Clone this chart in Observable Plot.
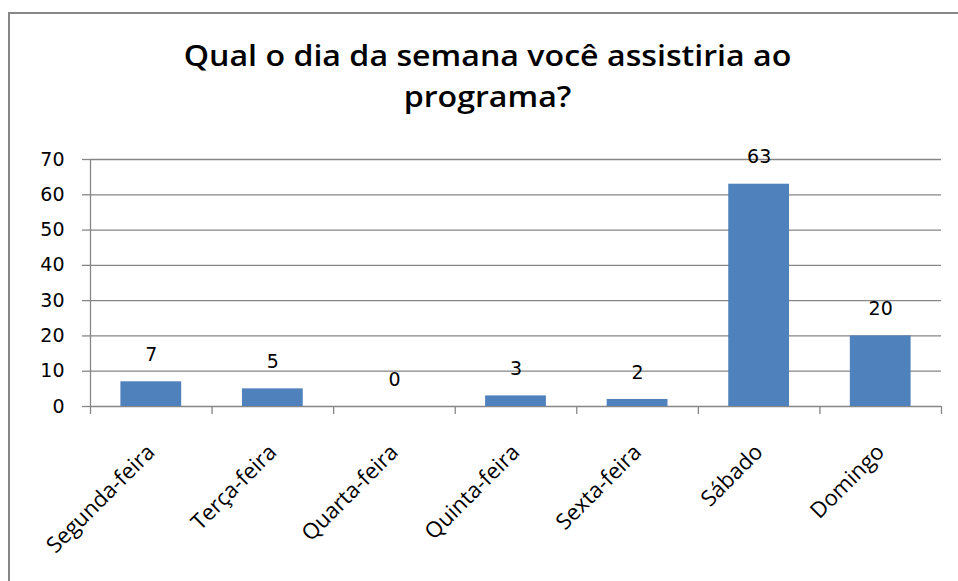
<!DOCTYPE html>
<html>
<head>
<meta charset="utf-8">
<script src="https://cdn.jsdelivr.net/npm/d3@7"></script>
<script src="https://cdn.jsdelivr.net/npm/@observablehq/plot@0.6"></script>
<style>
  html, body { margin: 0; padding: 0; background: #fff; }
  #wrap { position: relative; width: 958px; height: 581px; overflow: hidden; background: #fff; }
  #frame { position: absolute; left: 8px; top: 12px; width: 960px; height: 580px;
           border-top: 2px solid #878787; border-left: 2px solid #878787; box-sizing: border-box; }
  #title { position: absolute; left: 0; top: 34px; width: 975px; text-align: center;
           font-family: "Open Sans", Lato, sans-serif; font-weight: 600; font-size: 29.5px;
           line-height: 41px; color: #000; transform: scaleX(1.09); transform-origin: 487px 0; }
  #chart { position: absolute; left: 0; top: 0; }
</style>
</head>
<body>
<div id="wrap">
  <div id="frame"></div>
  <div id="chart"></div>
  <div id="title">Qual o dia da semana você assistiria ao<br>programa?</div>
</div>
<script>
const categories = ["Segunda-feira", "Terça-feira", "Quarta-feira", "Quinta-feira", "Sexta-feira", "Sábado", "Domingo"];
const values = [7, 5, 0, 3, 2, 63, 20];
const yTicks = [0, 10, 20, 30, 40, 50, 60, 70];

const data = categories.map((c, i) => ({category: c, index: i, value: values[i]}));
const boundaries = d3.range(0, categories.length + 1);

const numFont = "DejaVu Sans, Verdana, sans-serif";
const labFont = "'Open Sans', Lato, sans-serif";
const gray = "#868686";

const chart = Plot.plot({
  width: 958,
  height: 581,
  marginTop: 159,
  marginBottom: 175,
  marginLeft: 90,
  marginRight: 17,
  style: {background: "transparent", overflow: "visible"},
  x: {type: "linear", domain: [0, categories.length]},
  y: {domain: [0, 70]},
  marks: [
    Plot.gridY(yTicks, {stroke: gray, strokeOpacity: 1, strokeWidth: 1.3}),
    Plot.axisY(yTicks, {tickSize: 8, tickPadding: 18, stroke: gray, strokeWidth: 1.3, fontSize: 19, fontFamily: numFont, fill: "#000", label: null}),
    Plot.axisX(boundaries, {tickSize: 8, stroke: gray, strokeWidth: 1.3, tickFormat: () => "", label: null}),
    Plot.ruleX([0], {y1: 0, y2: 70, stroke: gray, strokeWidth: 1.3}),
    Plot.rectY(data, {x1: d => d.index + 0.25, x2: d => d.index + 0.75, y: "value", fill: "#4F81BD"}),
    Plot.text(data, {x: d => d.index + 0.5, y: "value", text: d => String(d.value), dy: -27, fontSize: 19, fontFamily: numFont, fill: "#000"}),
    Plot.text(data, {x: d => d.index + 0.5, y: () => 0, text: "category", rotate: -45, textAnchor: "end", dx: 0, dy: 42, fontSize: 22, fontFamily: labFont, fill: "#000"})
  ]
});
document.getElementById("chart").appendChild(chart);
</script>
</body>
</html>
